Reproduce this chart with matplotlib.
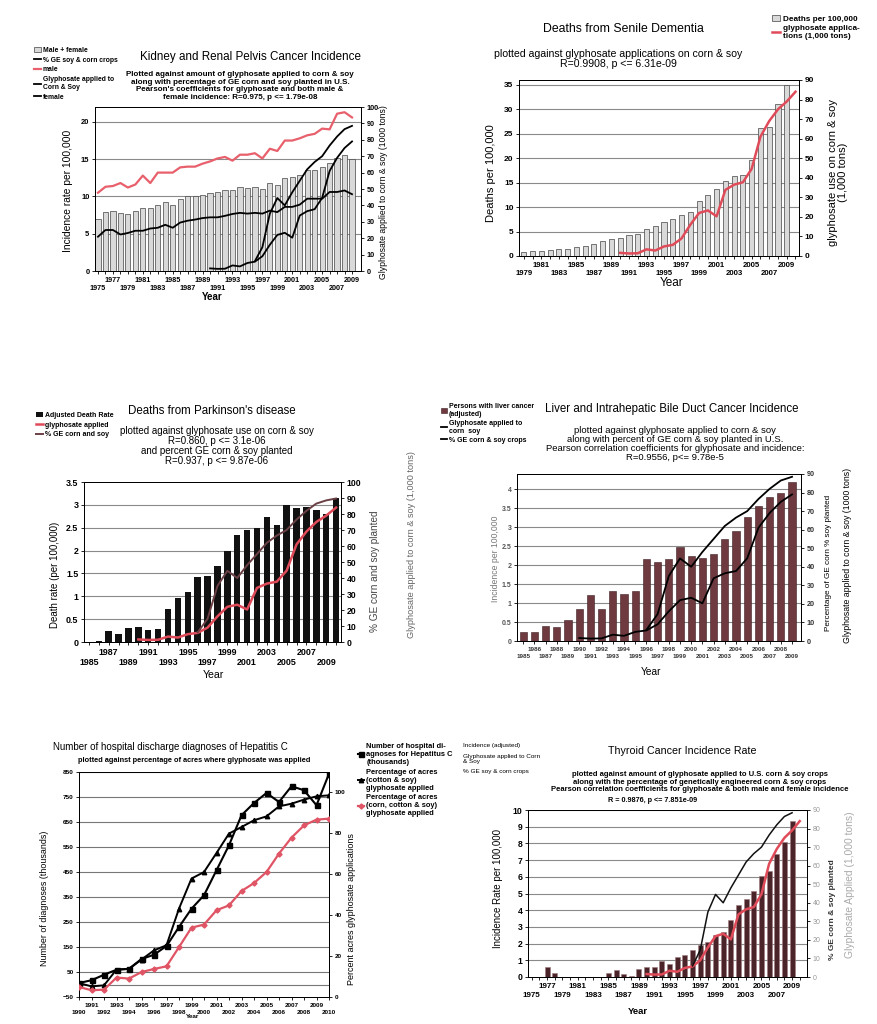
import numpy as np
import matplotlib
matplotlib.use("Agg")
import matplotlib.pyplot as plt

plt.rcParams['font.family'] = ['Liberation Sans', 'DejaVu Sans']
plt.rcParams['axes.linewidth'] = 0.7
for ax_ in ('xtick', 'ytick'):
    plt.rcParams[ax_ + '.major.size'] = 2.5
    plt.rcParams[ax_ + '.minor.size'] = 2.5
    plt.rcParams[ax_ + '.major.width'] = 0.6
    plt.rcParams[ax_ + '.minor.width'] = 0.6
    plt.rcParams[ax_ + '.major.pad'] = 1.5

# ---------------- shared glyphosate / GE series ----------------
GLY_YEARS = list(range(1990, 2011))
GLYPHOSATE = [1.6, 1.3, 1.4, 3.4, 2.8, 4.9, 5.7, 9.0, 16.0, 22.0, 23.3, 20.3,
              33.8, 36.5, 37.7, 44.6, 61.0, 69.0, 75.0, 79.0, 84.0]
GE_YEARS = list(range(1996, 2011))
GE_PCT = [6.0, 14.5, 35.0, 44.5, 40.0, 48.0, 55.0, 62.0, 66.5, 70.0, 76.5,
          82.0, 86.5, 88.5, 89.7]

# ---------------- Kidney ----------------
KID_YEARS = list(range(1975, 2010))
KID_TOTAL = [7.0, 7.9, 8.05, 7.8, 7.7, 8.05, 8.5, 8.4, 8.9, 9.2, 8.9, 9.7, 10.0,
             10.0, 10.2, 10.5, 10.6, 10.8, 10.8, 11.3, 11.1, 11.3, 11.0, 11.8,
             11.5, 12.5, 12.6, 12.9, 13.5, 13.6, 14.0, 14.5, 15.2, 15.6, 15.0]
KID_MALE = [10.5, 11.3, 11.4, 11.8, 11.2, 11.6, 12.8, 11.8, 13.2, 13.2, 13.2,
            13.9, 14.0, 14.0, 14.4, 14.7, 15.1, 15.3, 14.8, 15.6, 15.6, 15.8,
            15.1, 16.4, 16.1, 17.5, 17.5, 17.8, 18.2, 18.4, 19.1, 19.0, 21.1,
            21.3, 20.6]
KID_FEMALE = [4.6, 5.5, 5.5, 4.9, 5.1, 5.4, 5.4, 5.7, 5.8, 6.2, 5.8, 6.5, 6.75,
              6.9, 7.1, 7.2, 7.2, 7.4, 7.65, 7.8, 7.7, 7.8, 7.7, 8.1, 7.9, 8.6,
              8.6, 8.9, 9.7, 9.7, 9.7, 10.6, 10.6, 10.8, 10.3]

# ---------------- Senile dementia ----------------
DEM_YEARS = list(range(1979, 2010))
DEM_DEATHS = [0.8, 0.95, 1.1, 1.2, 1.35, 1.4, 1.8, 2.0, 2.45, 3.05, 3.5, 3.7,
              4.2, 4.4, 5.45, 6.1, 6.95, 7.6, 8.45, 9.1, 11.2, 12.45, 13.8,
              15.25, 16.3, 16.5, 19.6, 26.1, 26.4, 31.0, 35.0]

# ---------------- Parkinson ----------------
PARK_YEARS = list(range(1986, 2011))
PARK_RATE = [0.02, 0.25, 0.17, 0.3, 0.33, 0.27, 0.29, 0.72, 0.96, 1.1, 1.42,
             1.44, 1.67, 2.0, 2.35, 2.46, 2.5, 2.74, 2.56, 3.0, 2.93, 2.95,
             2.88, 2.81, 3.14]

# ---------------- Liver ----------------
LIV_YEARS = list(range(1985, 2010))
LIV_RATE = [0.25, 0.25, 0.39, 0.37, 0.55, 0.85, 1.2, 0.85, 1.32, 1.25, 1.32,
            2.15, 2.09, 2.15, 2.48, 2.25, 2.19, 2.3, 2.68, 2.89, 3.26, 3.56,
            3.79, 3.89, 4.19]

# ---------------- Hepatitis C ----------------
HEP_YEARS = list(range(1990, 2011))
HEP_DIAG = [6, 17, 39, 59, 63, 102, 119, 154, 230, 303, 357, 457, 557, 677,
            726, 766, 730, 793, 777, 717, 843]
HEP_COTTON_SOY = [6.8, 5.2, 5.7, 13.4, 13.7, 18.3, 22.8, 25.3, 43.2, 57.9, 61.1,
                  70.4, 79.9, 83.1, 86.4, 88.3, 93.2, 94.5, 96.5, 98.1, 98.6]
HEP_CORN_COTTON_SOY = [4.9, 3.3, 3.6, 9.5, 9.0, 12.2, 13.7, 15.0, 24.4, 33.9,
                       35.4, 42.4, 44.8, 51.8, 55.7, 61.1, 70.1, 77.9, 83.9,
                       86.7, 87.2]

# ---------------- Thyroid ----------------
THY_YEARS = [1977, 1978, 1985, 1986, 1987, 1988, 1989, 1990, 1991, 1992, 1993,
             1994, 1995, 1996, 1997, 1998, 1999, 2000, 2001, 2002, 2003, 2004,
             2005, 2006, 2007, 2008, 2009]
THY_RATE = [0.58, 0.24, 0.26, 0.44, 0.16, 0.04, 0.5, 0.62, 0.62, 0.96, 0.78,
            1.22, 1.33, 1.6, 1.9, 2.1, 2.5, 2.67, 3.39, 4.32, 4.68, 5.16, 6.02,
            6.32, 7.37, 8.1, 9.36]

RED = '#e04b5a'
W, H = 877, 1024
fig = plt.figure(figsize=(W / 100, H / 100), dpi=100)


def add_ax(x0, y0, x1, y1):
    return fig.add_axes([x0 / W, 1 - y1 / H, (x1 - x0) / W, (y1 - y0) / H])


def ftext(x, y, s, **kw):
    kw.setdefault('ha', 'center')
    kw.setdefault('va', 'center')
    fig.text(x / W, 1 - y / H, s, **kw)


def sub(d, years):
    return [d[1][d[0].index(y)] for y in years]


def year_ticks(ax, years, upper, lower, size=5, color='black'):
    """Every year gets a tick; 'upper' years labelled on row 1, 'lower' on row 2."""
    major = [y for y in years if y not in lower]
    minor = [y for y in years if y in lower]
    ax.set_xticks(major)
    ax.set_xticklabels([str(y) if y in upper else '' for y in major],
                       fontsize=size, fontweight='bold', color=color)
    ax.set_xticks(minor, minor=True)
    ax.set_xticklabels([str(y) for y in minor], minor=True,
                       fontsize=size, fontweight='bold', color=color)
    ax.tick_params(axis='x', which='minor', pad=1.5 + size * 1.12)


def style_y(ax, size=5, color='black', weight='bold'):
    for lab in ax.get_yticklabels():
        lab.set_fontsize(size)
        lab.set_fontweight(weight)
        lab.set_color(color)


def grid_lines(ax, vals, color='#8a8a8a', lw=0.8):
    for v in vals:
        ax.axhline(v, color=color, lw=lw, zorder=0.5)


def legend(handles, labels, x, y, size, spacing=0.3, hl=1.0):
    fig.legend(handles, labels, loc='upper left', bbox_to_anchor=(x / W, 1 - y / H),
               frameon=False, prop={'size': size, 'weight': 'bold'},
               handlelength=hl, handleheight=0.8, handletextpad=0.3,
               labelspacing=spacing, borderaxespad=0, borderpad=0)


gly = (GLY_YEARS, GLYPHOSATE)
ge = (GE_YEARS, GE_PCT)

# ======================= Panel 1: Kidney =======================
ax = add_ax(95, 107, 361, 271)
ax.set_xlim(1974.6, 2010.2)
ax.set_ylim(0, 22)
grid_lines(ax, [5, 10, 15, 20])
b1 = ax.bar(KID_YEARS, KID_TOTAL, width=0.7, color='#d9d9d9', edgecolor='#444444',
            linewidth=0.5, zorder=2)
l_male, = ax.plot(KID_YEARS, KID_MALE, color='#e8606c', lw=1.6, zorder=4)
l_fem, = ax.plot(KID_YEARS, KID_FEMALE, color='black', lw=1.3, zorder=4)
ax.set_yticks([0, 5, 10, 15, 20])
style_y(ax, 5.4)
year_ticks(ax, KID_YEARS, set(range(1977, 2010, 4)), set(range(1975, 2010, 4)), 5.2)
axr = ax.twinx()
axr.set_ylim(0, 100)
gy = list(range(1990, 2010))
l_gly, = axr.plot(gy, sub(gly, gy), color='black', lw=1.3, zorder=4)
gey = list(range(1996, 2010))
l_ge, = axr.plot(gey, sub(ge, gey), color='black', lw=1.3, zorder=4)
axr.set_yticks(range(0, 101, 10))
style_y(axr, 5.2)
ftext(250, 57, 'Kidney and Renal Pelvis Cancer Incidence', fontsize=8.4)
ftext(240, 86, "Plotted against amount of glyphosate applied to corn & soy\n"
      "along with percentage of GE corn and soy planted in U.S.\n"
      "Pearson's coefficients for glyphosate and both male &\n"
      "female incidence: R=0.975, p <= 1.79e-08", fontsize=5.75, fontweight='bold',
      linespacing=1.12)
ftext(68, 191, 'Incidence rate per 100,000', rotation=90, fontsize=7.4)
ftext(383, 192, 'Glyphosate applied to corn & soy (1000 tons)', rotation=90, fontsize=6.2)
ftext(212, 297, 'Year', fontsize=7, fontweight='bold')
legend([b1, l_ge, l_male, l_gly, l_fem],
       ['Male + female', '% GE soy & corn crops', 'male',
        'Glyphosate applied to\nCorn & Soy', 'female'], 34, 47, 4.9, spacing=0.4)

# ======================= Panel 2: Senile dementia =======================
ax = add_ax(519, 80, 799, 256)
ax.set_xlim(1978.45, 2010.4)
ax.set_ylim(0, 36)
grid_lines(ax, range(5, 36, 5))
b2 = ax.bar(DEM_YEARS, DEM_DEATHS, width=0.58, color='#d9d9d9', edgecolor='#444444',
            linewidth=0.5, zorder=2)
ax.set_yticks(range(0, 36, 5))
style_y(ax, 6.0)
year_ticks(ax, list(range(1979, 2011)), set(range(1981, 2010, 4)),
           set(range(1979, 2010, 4)), 5.6)
axr = ax.twinx()
axr.set_ylim(0, 90)
l_g2, = axr.plot(GLY_YEARS, GLYPHOSATE, color=RED, lw=1.8, zorder=4)
axr.set_yticks(range(0, 91, 10))
style_y(axr, 6.0)
ftext(623, 29, 'Deaths from Senile Dementia', fontsize=8.8)
ftext(618, 59, 'plotted against glyphosate applications on corn & soy\n'
      'R=0.9908, p <= 6.31e-09', fontsize=7.6, linespacing=1.1)
ftext(491, 173, 'Deaths per 100,000', rotation=90, fontsize=8.0)
ftext(838, 172, 'glyphosate use on corn & soy\n(1,000 tons)', rotation=90,
      fontsize=8.0, linespacing=1.05)
ftext(672, 283, 'Year', fontsize=8.5)
legend([b2, l_g2], ['Deaths per 100,000', 'glyphosate applica-\ntions (1,000 tons)'],
       772, 15, 5.9, spacing=0.25)

# ======================= Panel 3: Parkinson =======================
ax = add_ax(84, 482, 341, 642)
ax.set_xlim(1984.5, 2010.5)
ax.set_ylim(0, 3.5)
grid_lines(ax, [0.5, 1, 1.5, 2, 2.5, 3])
b3 = ax.bar(PARK_YEARS, PARK_RATE, width=0.65, color='#111111', zorder=2)
ax.set_yticks([0, 0.5, 1, 1.5, 2, 2.5, 3, 3.5])
ax.set_yticklabels(['0', '0.5', '1', '1.5', '2', '2.5', '3', '3.5'])
style_y(ax, 6.4)
year_ticks(ax, list(range(1985, 2011)), set(range(1987, 2010, 4)),
           set(range(1985, 2010, 4)), 6.4)
axr = ax.twinx()
axr.set_ylim(0, 100)
l_g3, = axr.plot(GLY_YEARS, GLYPHOSATE, color=RED, lw=1.8, zorder=4)
l_ge3, = axr.plot(GE_YEARS, GE_PCT, color='#6a4045', lw=1.4, zorder=4)
axr.set_yticks(range(0, 101, 10))
style_y(axr, 6.2)
ftext(212, 411, "Deaths from Parkinson's disease", fontsize=8.3)
ftext(217, 446, 'plotted against glyphosate use on corn & soy\n'
      'R=0.860, p <= 3.1e-06\nand percent GE corn & soy planted\n'
      'R=0.937, p <= 9.87e-06', fontsize=7.0, linespacing=1.0)
ftext(55, 575, 'Death rate (per 100,000)', rotation=90, fontsize=7.0)
ftext(375, 571, '% GE corn and soy planted', rotation=90, fontsize=7.2, color='#444444')
ftext(411, 545, 'Glyphosate applied to corn & soy (1,000 tons)', rotation=90,
      fontsize=6.6, color='#666666')
ftext(213, 675, 'Year', fontsize=7.6)
legend([b3, l_g3, l_ge3], ['Adjusted Death Rate', 'glyphosate applied',
                           '% GE corn and soy'], 36, 412, 5.0, spacing=0.35)

# ======================= Panel 4: Liver =======================
ax = add_ax(517, 474, 801, 641)
ax.set_xlim(1984.45, 2009.8)
ax.set_ylim(0, 4.4)
grid_lines(ax, [0.5, 1, 1.5, 2, 2.5, 3, 3.5, 4])
b4 = ax.bar(LIV_YEARS, LIV_RATE, width=0.65, color='#6e3a40', edgecolor='#3a1e22',
            linewidth=0.4, zorder=2)
ax.set_yticks([0, 0.5, 1, 1.5, 2, 2.5, 3, 3.5, 4])
ax.set_yticklabels(['0', '0.5', '1', '1.5', '2', '2.5', '3', '3.5', '4'])
style_y(ax, 5.0, color='#555555')
year_ticks(ax, LIV_YEARS, set(range(1986, 2010, 2)), set(range(1985, 2010, 2)),
           4.5, color='#333333')
axr = ax.twinx()
axr.set_ylim(0, 90)
gy = list(range(1990, 2010))
l_g4, = axr.plot(gy, sub(gly, gy), color='black', lw=1.3, zorder=4)
gey = list(range(1996, 2010))
l_ge4, = axr.plot(gey, sub(ge, gey), color='black', lw=1.3, zorder=4)
axr.set_yticks(range(0, 91, 10))
style_y(axr, 5.2, color='#333333')
ftext(672, 409, 'Liver and Intrahepatic Bile Duct Cancer Incidence', fontsize=8.3)
ftext(675, 444, 'plotted against glyphosate applied to corn & soy\n'
      'along with percent of GE corn & soy planted in U.S.\n'
      'Pearson correlation coefficients for glyphosate and incidence:\n'
      'R=0.9556, p<= 9.78e-5', fontsize=6.8, linespacing=1.0)
ftext(496, 559, 'Incidence per 100,000', rotation=90, fontsize=6.2, color='#777777')
ftext(828, 563, 'Percentage of GE corn % soy planted', rotation=90, fontsize=5.9)
ftext(848, 555, 'Glyphosate applied to corn & soy (1000 tons)', rotation=90, fontsize=6.3)
ftext(651, 672, 'Year', fontsize=7.3)
legend([b4, l_g4, l_ge4], ['Persons with liver cancer\n(adjusted)',
                           'Glyphosate applied to\ncorn  soy',
                           '% GE corn & soy crops'], 441, 403, 5.0, spacing=0.25, hl=0.8)

# ======================= Panel 5: Hepatitis C =======================
ax = add_ax(79, 772, 329, 997)
ax.set_xlim(1990, 2010)
ax.set_ylim(-50, 850)
grid_lines(ax, list(range(50, 851, 100)) + [0], color='#777777', lw=0.8)
l_h1, = ax.plot(HEP_YEARS, HEP_DIAG, color='black', lw=1.5, marker='s',
                markersize=3.6, zorder=5)
ax.set_yticks(range(-50, 851, 100))
style_y(ax, 4.6)
year_ticks(ax, HEP_YEARS, set(range(1991, 2010, 2)), set(range(1990, 2011, 2)), 4.6)
axr = ax.twinx()
axr.set_ylim(0, 110)
l_h2, = axr.plot(HEP_YEARS, HEP_COTTON_SOY, color='black', lw=1.4, marker='^',
                 markersize=3.2, zorder=4)
l_h3, = axr.plot(HEP_YEARS, HEP_CORN_COTTON_SOY, color='#e05565', lw=1.6, marker='D',
                 markersize=2.6, zorder=4)
axr.set_yticks(range(0, 101, 20))
style_y(axr, 4.6)
ftext(170, 747, 'Number of hospital discharge diagnoses of Hepatitis C', fontsize=7.0)
ftext(194, 760, 'plotted against percentage of acres where glyphosate was applied',
      fontsize=5.3, fontweight='bold')
ftext(45, 898, 'Number of diagnoses (thousands)', rotation=90, fontsize=6.4)
ftext(351, 909, 'Percent acres glyphosate applications', rotation=90, fontsize=6.5)
ftext(193, 1014, 'Year', fontsize=4.6, fontweight='bold', va='top')
legend([l_h1, l_h2, l_h3],
       ['Number of hospital di-\nagnoses for Hepatitus C\n(thousands)',
        'Percentage of acres\n(cotton & soy)\nglyphosate applied',
        'Percentage of acres\n(corn, cotton & soy)\nglyphosate applied'],
       358, 743, 5.4, spacing=0.35, hl=0.8)

# ======================= Panel 6: Thyroid =======================
ax = add_ax(528, 810, 807, 977)
ax.set_xlim(1974.5, 2010.95)
ax.set_ylim(0, 10)
grid_lines(ax, range(1, 11))
ax.bar(THY_YEARS, THY_RATE, width=0.65, color='#4a2428', edgecolor='#a07a7e',
       linewidth=0.4, zorder=2)
ax.set_yticks(range(0, 11))
style_y(ax, 6.2)
year_ticks(ax, list(range(1975, 2011)), set(range(1977, 2010, 4)),
           set(range(1975, 2010, 4)), 5.8)
axr = ax.twinx()
axr.set_ylim(0, 90)
axr.plot(GLY_YEARS, GLYPHOSATE, color=RED, lw=1.8, zorder=4)
gey = list(range(1996, 2010))
axr.plot(gey, sub(ge, gey), color='#111111', lw=1.1, zorder=4)
axr.set_yticks(range(0, 91, 10))
style_y(axr, 5.0, color='#999999', weight='normal')
ftext(682, 751, 'Thyroid Cancer Incidence Rate', fontsize=7.7)
ftext(700, 782, 'plotted against amount of glyphosate applied to U.S. corn & soy crops\n'
      'along with the percentage of genetically engineered corn & soy crops\n'
      'Pearson correlation coefficients for glyphosate & both male and female incidence',
      fontsize=5.5, fontweight='bold', linespacing=1.05)
ftext(653, 801, 'R = 0.9876, p <= 7.851e-09', fontsize=5.2, fontweight='bold')
ftext(498, 888, 'Incidence Rate per 100,000', rotation=90, fontsize=7.0)
ftext(833, 910, '% GE corn & soy planted', rotation=90, fontsize=6.0, fontweight='bold',
      color='#333333')
ftext(850, 885, 'Glyphosate Applied (1,000 tons)', rotation=90, fontsize=7.4,
      color='#aaaaaa')
ftext(638, 1012, 'Year', fontsize=6.8, fontweight='bold')
ftext(463, 746, 'Incidence (adjusted)', fontsize=4.6, ha='left')
ftext(463, 754, 'Glyphosate applied to Corn\n& Soy', fontsize=4.6, ha='left',
      va='top', linespacing=1.0)
ftext(463, 771, '% GE soy & corn crops', fontsize=4.6, ha='left')

fig.savefig('out.png', dpi=100)
